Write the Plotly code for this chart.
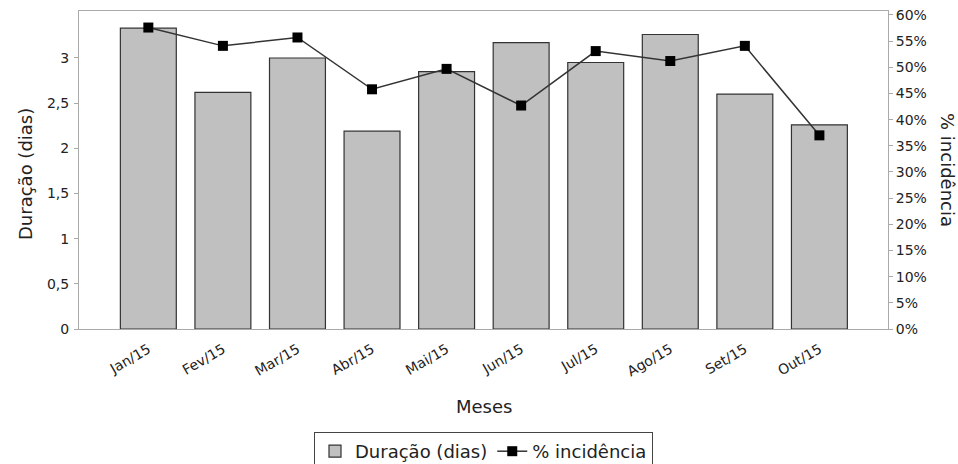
import plotly.graph_objects as go

meses = ["Jan/15", "Fev/15", "Mar/15", "Abr/15", "Mai/15", "Jun/15", "Jul/15", "Ago/15", "Set/15", "Out/15"]
duracao = [3.33, 2.62, 3.00, 2.19, 2.85, 3.17, 2.95, 3.26, 2.60, 2.26]
incidencia = [57.6, 54.1, 55.7, 45.8, 49.7, 42.7, 53.1, 51.2, 54.1, 37.0]
left_ticks = [0, 0.5, 1, 1.5, 2, 2.5, 3]
left_labels = ["0", "0,5", "1", "1,5", "2", "2,5", "3"]
right_ticks = [0, 5, 10, 15, 20, 25, 30, 35, 40, 45, 50, 55, 60]
right_labels = [f"{v}%" for v in right_ticks]

FONT = "DejaVu Sans"
TXT = "#222222"
fig = go.Figure()
fig.add_trace(go.Bar(
    x=meses, y=duracao, name="Duração (dias)",
    marker=dict(color="#c0c0c0", line=dict(color="#333333", width=1.2)),
    yaxis="y",
))
fig.add_trace(go.Scatter(
    x=meses, y=incidencia, name="% incidência", mode="lines+markers",
    line=dict(color="#333333", width=1.5),
    marker=dict(symbol="square", size=10, color="#000000"),
    yaxis="y2",
))

fig.update_layout(
    width=958, height=464,
    margin=dict(l=79, r=70, t=11, b=135),
    paper_bgcolor="white", plot_bgcolor="white",
    separators=", ",
    font=dict(family=FONT, size=14, color=TXT),
    bargap=0.25,
    showlegend=True,
    legend=dict(
        orientation="h", x=0.5, xanchor="center", xref="paper",
        y=1 - 432 / 464, yanchor="top", yref="container",
        bordercolor="#444444", borderwidth=1, font=dict(family=FONT, size=18, color=TXT),
        itemwidth=30, tracegroupgap=0,
    ),
    xaxis=dict(
        type="category", range=[-0.93, 9.92], tickangle=-30, automargin=False,
        showline=True, linecolor="#aaaaaa", linewidth=1, mirror=True,
        ticks="", showgrid=False, ticklabelstandoff=6,
        tickfont=dict(family=FONT, size=14, color=TXT),
    ),
    yaxis=dict(
        range=[0, 3.52], tickvals=left_ticks, ticktext=left_labels, automargin=False,
        showline=True, linecolor="#aaaaaa", linewidth=1,
        ticks="outside", ticklen=4, tickcolor="#aaaaaa", showgrid=False, zeroline=False,
        ticklabelstandoff=2,
        tickfont=dict(family=FONT, size=14, color=TXT),
    ),
    yaxis2=dict(
        overlaying="y", side="right", range=[0, 60.76], automargin=False,
        tickvals=right_ticks, ticktext=right_labels,
        showline=True, linecolor="#aaaaaa", linewidth=1,
        ticks="outside", ticklen=4, tickcolor="#aaaaaa", showgrid=False, zeroline=False,
        tickfont=dict(family=FONT, size=14, color=TXT),
    ),
    annotations=[
        dict(text="Duração (dias)", xref="paper", yref="paper", x=0, y=0.5,
             xanchor="center", yanchor="middle", xshift=-54, yshift=-4, textangle=-90,
             showarrow=False, font=dict(family=FONT, size=18, color=TXT)),
        dict(text="% incidência", xref="paper", yref="paper", x=1.0, y=0.5,
             xanchor="center", yanchor="middle", xshift=60, textangle=90,
             showarrow=False, font=dict(family=FONT, size=18, color=TXT)),
        dict(text="Meses", xref="paper", yref="paper", x=0.5, y=0,
             xanchor="center", yanchor="middle", yshift=-77,
             showarrow=False, font=dict(family=FONT, size=18, color=TXT)),
    ],
)

fig.write_html(
    "out.html",
    config={"displayModeBar": False},
    post_script="document.body.style.margin='0';document.body.style.padding='0';",
)
